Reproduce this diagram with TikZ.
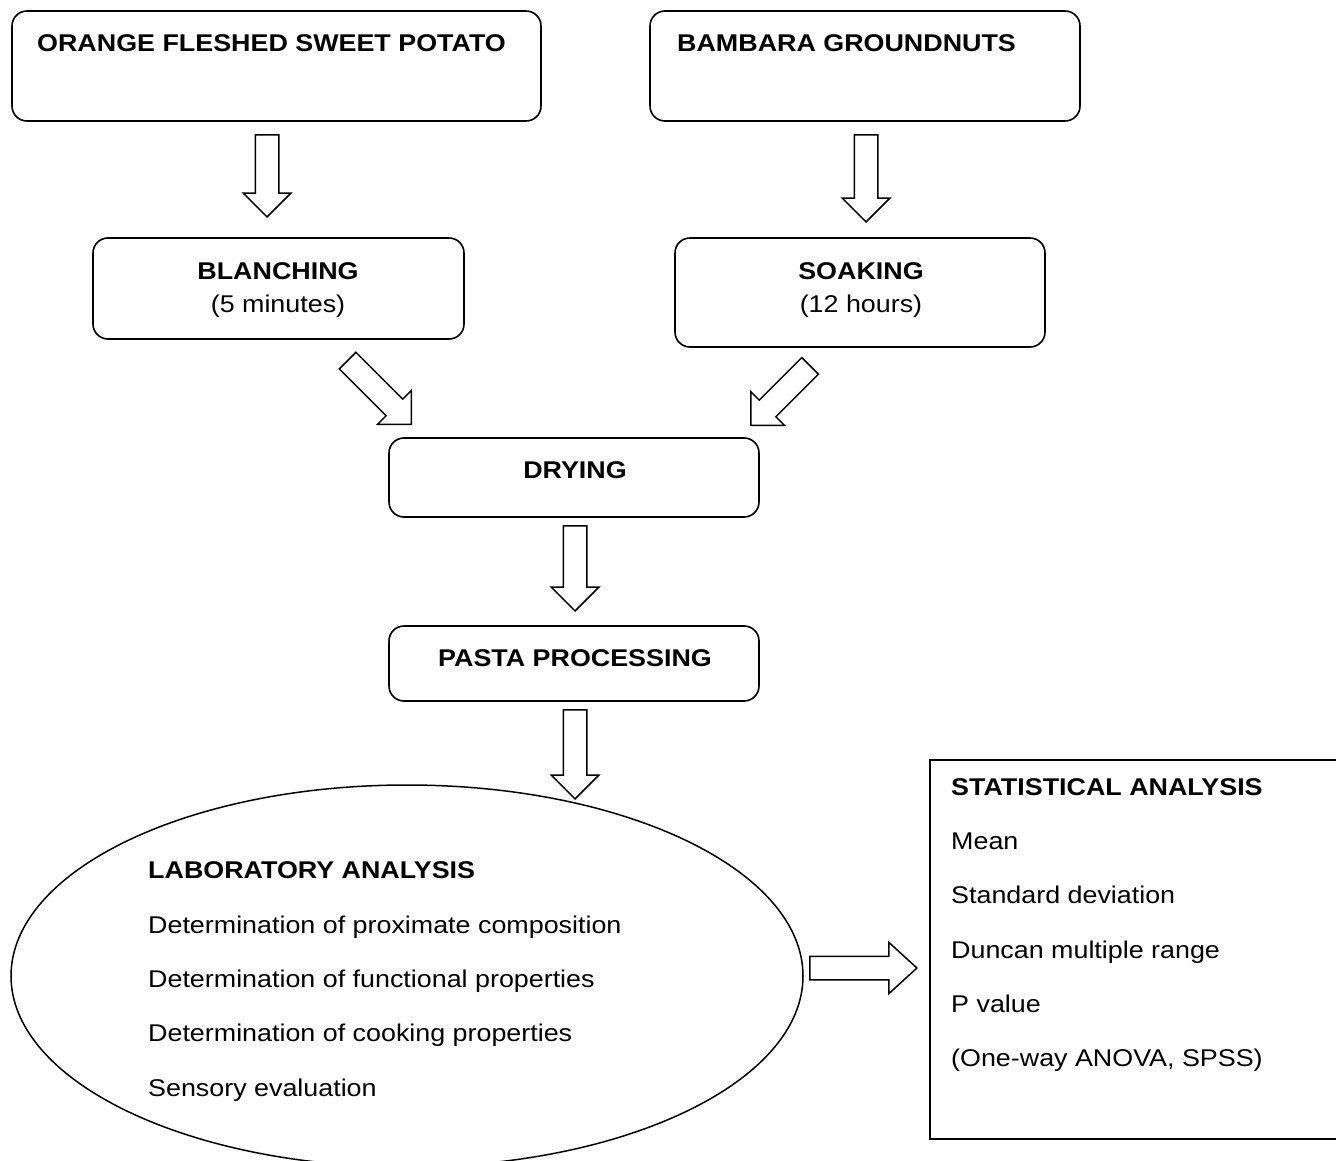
\documentclass[tikz,border=0pt]{standalone}
\usepackage{fontspec}
\setmainfont[FakeStretch=1.11]{Liberation Sans}
\usetikzlibrary{shapes.arrows,shapes.geometric}
\tikzset{
  box/.style={draw, rounded corners=15pt, line width=1.6pt, inner sep=0pt},
  plainbox/.style={draw, line width=1.6pt, inner sep=0pt},
  oval/.style={draw, ellipse, line width=1.5pt, inner sep=0pt},
  txt/.style={inner sep=0pt, font=\fontsize{24.2}{28}\selectfont},
  btxt/.style={txt, font=\fontsize{24.2}{28}\selectfont\bfseries},
  barrow/.style={draw, single arrow, line width=1.5pt, inner xsep=0pt, inner ysep=11pt,
     text height=0pt, text depth=0pt, text width=0pt, single arrow head extend=12pt,
     single arrow tip angle=90, single arrow head indent=0pt, minimum height=#1, anchor=tip},
}
\begin{document}
\begin{tikzpicture}[x=1pt,y=-1pt]
\useasboundingbox (0,0) rectangle (1336,1161);
% boxes
\node[box, minimum width=529pt, minimum height=110pt] (ofsp) at (276.5,66) {};
\node[box, minimum width=430pt, minimum height=110pt] (bamb) at (865,66) {};
\node[box, minimum width=371pt, minimum height=101pt] (blanch) at (278.5,288.5) {};
\node[box, minimum width=370pt, minimum height=109pt] (soak) at (860,292.5) {};
\node[box, minimum width=370pt, minimum height=79pt] (dry) at (574,477.5) {};
\node[box, minimum width=370pt, minimum height=75pt] (pasta) at (574,663.5) {};
\node[oval, minimum width=792pt, minimum height=382pt] (lab) at (407,976) {};
\node[plainbox, minimum width=420pt, minimum height=379pt] (stat) at (1140,949.5) {};
% texts
\node[btxt, anchor=base west] (t1) at (37,52) {ORANGE FLESHED SWEET POTATO};
\node[btxt, anchor=base west] (t2) at (677,52) {BAMBARA GROUNDNUTS};
\node[btxt, anchor=base] (t3) at (278,279) {BLANCHING};
\node[txt, anchor=base] (t4) at (278,312) {(5 minutes)};
\node[btxt, anchor=base] (t5) at (861,279) {SOAKING};
\node[txt, anchor=base] (t6) at (861,312) {(12 hours)};
\node[btxt, anchor=base] (t7) at (575,478) {DRYING};
\node[btxt, anchor=base] (t8) at (575,666) {PASTA PROCESSING};
\node[btxt, anchor=base west] (l1) at (148,878) {LABORATORY ANALYSIS};
\node[txt, anchor=base west] (l2) at (148,933) {Determination of proximate composition};
\node[txt, anchor=base west] (l3) at (148,987) {Determination of functional properties};
\node[txt, anchor=base west] (l4) at (148,1041) {Determination of cooking properties};
\node[txt, anchor=base west] (l5) at (148,1096) {Sensory evaluation};
\node[btxt, anchor=base west] (s1) at (951,795) {STATISTICAL ANALYSIS};
\node[txt, anchor=base west] (s2) at (951,849) {Mean};
\node[txt, anchor=base west] (s3) at (951,903) {Standard deviation};
\node[txt, anchor=base west] (s4) at (951,958) {Duncan multiple range};
\node[txt, anchor=base west] (s5) at (951,1012) {P value};
\node[txt, anchor=base west] (s6) at (951,1066) {(One-way ANOVA, SPSS)};
% block arrows
\node[barrow=82pt, rotate=-90] (a1) at (267,218) {};
\node[barrow=87pt, rotate=-90] (a2) at (866,223) {};
\node[barrow=90pt, rotate=-45] (a3) at (412,425) {};
\node[barrow=84pt, rotate=-135] (a4) at (750,426) {};
\node[barrow=85pt, rotate=-90] (a5) at (575,612) {};
\node[barrow=89pt, rotate=-90] (a6) at (575,800) {};
\node[barrow=107pt, single arrow head extend=14pt, single arrow tip angle=85] (a7) at (918,968) {};
\end{tikzpicture}
\end{document}
